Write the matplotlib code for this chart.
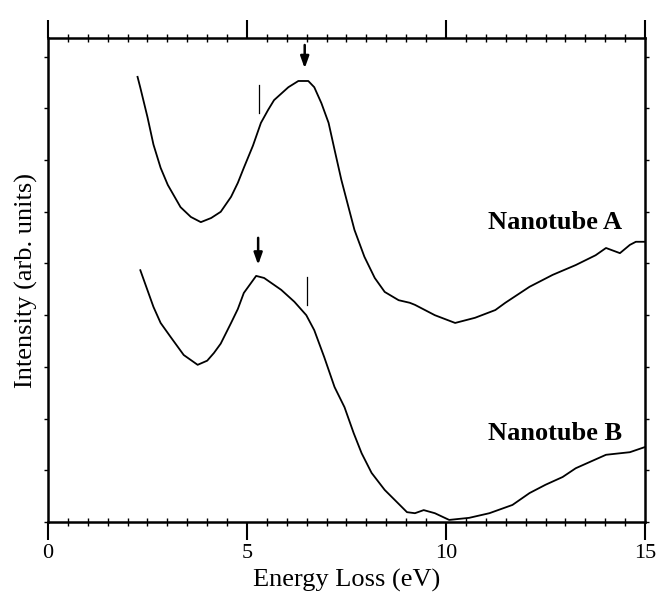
import matplotlib.pyplot as plt
import numpy as np

plt.rcParams["font.family"] = ["Liberation Serif", "DejaVu Serif"]

# Nanotube A spectrum (energy loss in eV, intensity in arb. units)
energie_a = [2.25, 2.32, 2.50, 2.65, 2.83, 3.01, 3.33, 3.59, 3.84, 4.10, 4.34,
             4.60, 4.77, 4.92, 5.15, 5.35, 5.53, 5.68, 6.04, 6.29, 6.54, 6.69,
             6.87, 7.05, 7.20, 7.37, 7.55, 7.70, 7.95, 8.21, 8.46, 8.81, 9.09,
             9.22, 9.72, 10.23, 10.73, 11.24, 11.49, 12.10, 12.68, 13.26,
             13.76, 14.02, 14.37, 14.62, 14.77, 15.0]
intens_a = [8.61, 8.40, 7.83, 7.30, 6.85, 6.52, 6.09, 5.90, 5.80, 5.88, 6.00,
            6.29, 6.56, 6.85, 7.28, 7.72, 7.97, 8.16, 8.41, 8.53, 8.53, 8.41,
            8.10, 7.72, 7.20, 6.62, 6.09, 5.65, 5.13, 4.72, 4.45, 4.29, 4.24,
            4.20, 4.00, 3.85, 3.95, 4.10, 4.24, 4.55, 4.78, 4.97,
            5.16, 5.30, 5.20, 5.36, 5.42, 5.42]

# Nanotube B spectrum
energie_b = [2.32, 2.65, 2.83, 3.08, 3.41, 3.76, 4.00, 4.17, 4.34, 4.60, 4.77,
             4.92, 5.23, 5.43, 5.86, 6.19, 6.49, 6.69, 6.94, 7.20, 7.45, 7.68,
             7.88, 8.13, 8.46, 8.76, 9.02, 9.22, 9.44, 9.72, 10.08, 10.58,
             11.09, 11.67, 12.10, 12.50, 12.93, 13.26, 13.61, 14.02, 14.62, 15.0]
intens_b = [4.87, 4.16, 3.85, 3.58, 3.23, 3.04, 3.12, 3.27, 3.45, 3.85, 4.12,
            4.43, 4.76, 4.72, 4.49, 4.26, 4.00, 3.71, 3.19, 2.61, 2.22, 1.72,
            1.33, 0.95, 0.62, 0.39, 0.19, 0.17, 0.23, 0.17, 0.04, 0.08,
            0.17, 0.33, 0.56, 0.72, 0.87, 1.04, 1.16, 1.30, 1.35, 1.45]

# pijlen (x, y_begin, y_eind) en streepjes (x, y_onder, y_boven)
pijlen = [(6.45, 9.28, 8.72), (5.28, 5.55, 4.92)]
streepjes = [(5.3, 7.91, 8.45), (6.52, 4.20, 4.74)]

labels = ["Nanotube A", "Nanotube B"]
label_x = [11.05, 11.05]
label_y = [5.80, 1.72]


def main():
    fig = plt.figure(figsize=(6.61, 5.95), dpi=100)
    ax = fig.add_axes([0.0726, 0.1227, 0.9032, 0.8133])

    ax.plot(energie_a, intens_a, color="black", lw=1.3, solid_joinstyle="round")
    ax.plot(energie_b, intens_b, color="black", lw=1.3, solid_joinstyle="round")

    for x, y0, y1 in pijlen:
        ax.annotate("", xy=(x, y1), xytext=(x, y0),
                    arrowprops=dict(arrowstyle="-|>,head_length=0.7,head_width=0.25",
                                    color="black", lw=1.8))
    for x, y0, y1 in streepjes:
        ax.plot([x, x], [y0, y1], color="black", lw=0.9)

    for tekst, x, y in zip(labels, label_x, label_y):
        ax.text(x, y, tekst, fontsize=19, fontweight="bold", va="center", ha="left")

    ax.set_xlim(0, 15)
    ax.set_ylim(0, 9.36)
    ax.set_xticks([0, 5, 10, 15])
    ax.set_xticks(np.arange(0, 15.01, 0.5), minor=True)
    ax.set_yticks(np.arange(0, 10))
    ax.set_yticklabels([])
    ax.tick_params(axis="x", which="major", direction="out", length=13, width=1.5,
                   labelsize=16, top=True, pad=3)
    ax.tick_params(axis="x", which="minor", direction="inout", length=6, width=1.0,
                   top=True)
    ax.tick_params(axis="y", which="major", direction="out", length=3, width=1.0,
                   right=True)

    for spine in ax.spines.values():
        spine.set_linewidth(1.8)

    ax.set_xlabel("Energy Loss (eV)", fontsize=19, labelpad=4)
    ax.set_ylabel("Intensity (arb. units)", fontsize=19, labelpad=1)

    fig.savefig("out.png", dpi=100)


if __name__ == "__main__":
    main()
